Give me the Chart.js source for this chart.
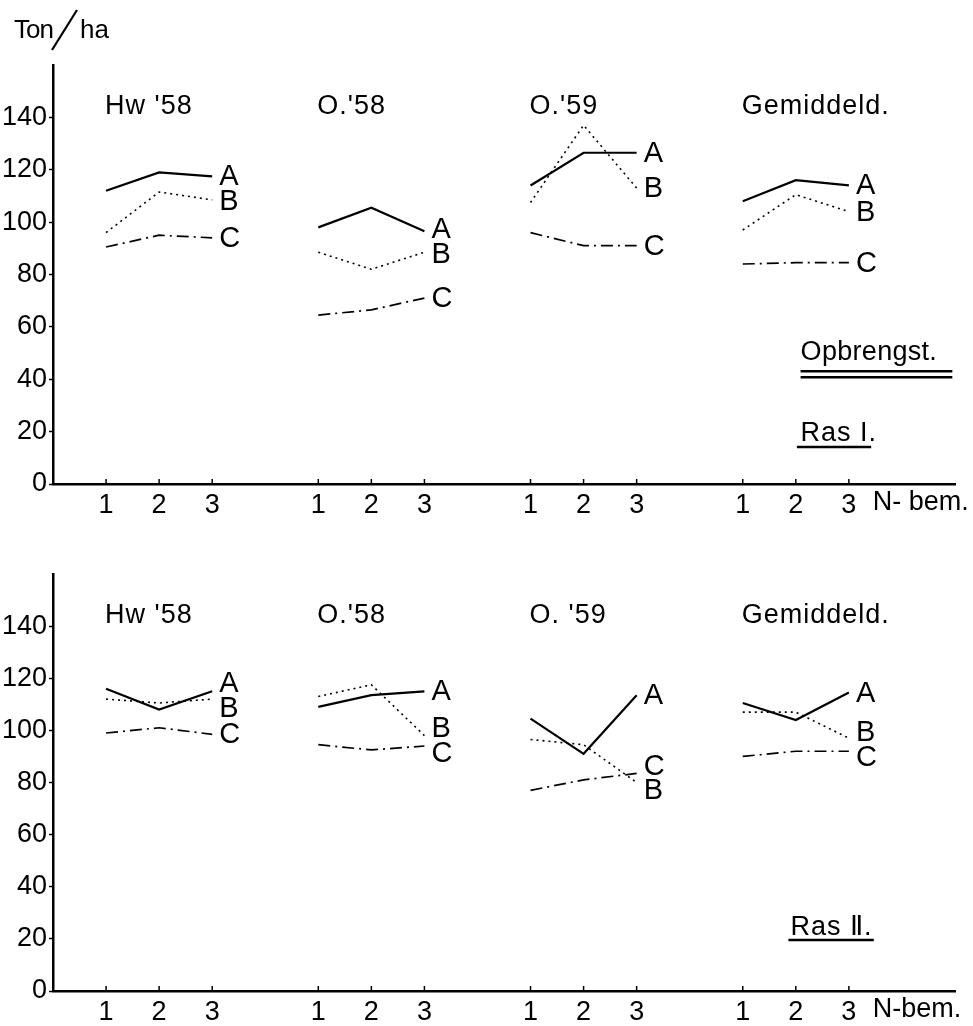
<!DOCTYPE html>
<html>
<head>
<meta charset="utf-8">
<script src="https://cdn.jsdelivr.net/npm/chart.js@4.4.1/dist/chart.umd.min.js"></script>
<style>
html, body { margin: 0; padding: 0; background: #fff; }
#wrap { position: relative; width: 973px; height: 1026px; }
#top { position: absolute; left: 0; top: 0; }
#bottom { position: absolute; left: 0; top: 530px; }
</style>
</head>
<body>
<div id="wrap">
  <canvas id="top" width="973" height="530"></canvas>
  <canvas id="bottom" width="973" height="496"></canvas>
</div>
<script>
// proefvelden (groepen) en N-bemesting
var plotsTop = ["Hw '58", "O.'58", "O.'59", "Gemiddeld."];
var plotsBottom = ["Hw '58", "O.'58", "O. '59", "Gemiddeld."];
var nLevels = ["1", "2", "3"];
var yTicks = [0, 20, 40, 60, 80, 100, 120, 140];

// Ras I - opbrengst ton/ha, per proefveld N1,N2,N3
var rasI_A = [112, 119, 117.5, 98, 105.5, 96.5, 114, 126.5, 126.5, 108, 116, 114];
var rasI_B = [96, 111.5, 108.5, 88.5, 82, 88.5, 107.5, 137, 113, 97, 110.5, 104];
var rasI_C = [90.5, 95, 94, 64.5, 66.5, 71, 96, 91, 91, 84, 84.5, 84.5];

// Ras II
var rasII_A = [116, 108, 115, 109, 113.5, 115, 104.5, 91, 113.5, 110.5, 104, 114.5];
var rasII_B = [112, 110.5, 112, 113, 117.5, 98, 96.5, 94.5, 80, 107, 107, 97];
var rasII_C = [99, 101, 98.5, 94.5, 92.5, 94, 77, 81, 83.5, 90, 92, 92];

var FONT = '"Liberation Sans", Arial, sans-serif';

// positie op de x-as: 3 trappen per groep, 1 lege plek ertussen
function slot(g, k) { return 4 * g + k + 1; }

function toPoints(vals) {
  var pts = [];
  for (var g = 0; g < 4; g++) {
    for (var k = 0; k < 3; k++) pts.push({ x: slot(g, k), y: vals[3 * g + k] });
    if (g < 3) pts.push({ x: 4 * g + 4, y: null }); // lijn onderbreken
  }
  return pts;
}

var xSlots = [];
for (var g = 0; g < 4; g++) for (var k = 0; k < 3; k++) xSlots.push(slot(g, k));

// tekst: titels, letters A/B/C, Ras, N-bem.
var annotPlugin = {
  id: 'annot',
  afterDatasetsDraw: function(chart, args, o) {
    var ctx = chart.ctx, xs = chart.scales.x, ys = chart.scales.y;
    ctx.save();
    ctx.fillStyle = '#000';
    ctx.strokeStyle = '#000';

    // kleine streepjes naar binnen op de x-as
    ctx.lineWidth = 1.5;
    xSlots.forEach(function(v) {
      var px = xs.getPixelForValue(v);
      ctx.beginPath();
      ctx.moveTo(px, xs.top);
      ctx.lineTo(px, xs.top - 5);
      ctx.stroke();
    });

    // groepstitels
    ctx.font = '27px ' + FONT;
    ctx.letterSpacing = '1px';
    ctx.textAlign = 'left';
    ctx.textBaseline = 'middle';
    o.titles.forEach(function(t, g) {
      ctx.fillText(t, xs.getPixelForValue(slot(g, 0)) - 1, ys.getPixelForValue(144));
    });
    ctx.letterSpacing = '0px';

    // letters A B C aan het eind van elke lijn, overlap wegschuiven
    ctx.font = '29px ' + FONT;
    var gap = 9.5;
    for (var g = 0; g < 4; g++) {
      var ends = o.series.map(function(s, i) { return { n: 'ABC'[i], v: s[3 * g + 2] }; });
      ends.sort(function(a, b) { return b.v - a.v; });
      for (var pass = 0; pass < 6; pass++) {
        for (var i = 0; i < ends.length - 1; i++) {
          if (ends[i].v - ends[i + 1].v < gap) {
            var mid = (ends[i].v + ends[i + 1].v) / 2;
            ends[i].v = mid + gap / 2;
            ends[i + 1].v = mid - gap / 2;
          }
        }
      }
      ends.forEach(function(e) {
        ctx.fillText(e.n, xs.getPixelForValue(slot(g, 2)) + 7, ys.getPixelForValue(e.v) + 1);
      });
    }

    // N-bem. naast de x-as labels
    ctx.font = '27px ' + FONT;
    ctx.textBaseline = 'top';
    ctx.fillText(o.nbem, xs.getPixelForValue(15.45), xs.top + 5);

    // Ras en Opbrengst, onderstreept
    ctx.textBaseline = 'alphabetic';
    o.notes.forEach(function(n) {
      ctx.font = '27px ' + FONT;
      ctx.letterSpacing = n.sp + 'px';
      ctx.fillText(n.text, xs.getPixelForValue(n.x), ys.getPixelForValue(n.y));
      ctx.letterSpacing = '0px';
      ctx.lineWidth = 2.5;
      n.lines.forEach(function(v) {
        ctx.beginPath();
        ctx.moveTo(xs.getPixelForValue(n.x0), ys.getPixelForValue(v));
        ctx.lineTo(xs.getPixelForValue(n.x1), ys.getPixelForValue(v));
        ctx.stroke();
      });
    });

    // eenheid linksboven
    if (o.unit) {
      var L = chart.chartArea.left, T = chart.chartArea.top;
      ctx.font = '26px ' + FONT;
      ctx.textBaseline = 'alphabetic';
      ctx.letterSpacing = '-1px';
      ctx.fillText('Ton', L - 39, T - 27);
      ctx.letterSpacing = '0px';
      ctx.fillText('ha', L + 27, T - 27);
      ctx.lineWidth = 2.2;
      ctx.beginPath();
      ctx.moveTo(L + 24, T - 55);
      ctx.lineTo(L - 1, T - 15);
      ctx.stroke();
    }
    ctx.restore();
  }
};

function makeChart(id, series, titles, padTop, padBottom, xHeight, extra) {
  var styles = [
    { borderWidth: 2.2, borderDash: [] },
    { borderWidth: 1.6, borderDash: [2, 4] },
    { borderWidth: 1.7, borderDash: [12, 5, 2, 5] }
  ];
  var datasets = series.map(function(s, i) {
    return {
      label: 'ABC'[i],
      data: toPoints(s),
      borderColor: '#000',
      borderWidth: styles[i].borderWidth,
      borderDash: styles[i].borderDash,
      pointRadius: 0,
      tension: 0,
      spanGaps: false,
      fill: false
    };
  });
  var ctx = document.getElementById(id).getContext('2d');
  return new Chart(ctx, {
    type: 'line',
    data: { datasets: datasets },
    options: {
      responsive: false,
      animation: false,
      devicePixelRatio: 1,
      layout: { padding: { left: 0, right: 18, top: padTop, bottom: padBottom } },
      plugins: {
        legend: { display: false },
        tooltip: { enabled: false },
        annot: Object.assign({ titles: titles, series: series }, extra)
      },
      scales: {
        x: {
          type: 'linear', min: 0, max: 17,
          afterBuildTicks: function(s) { s.ticks = xSlots.map(function(v) { return { value: v }; }); },
          afterFit: function(s) { s.height = xHeight; },
          ticks: {
            autoSkip: false, maxRotation: 0, padding: 5, color: '#000',
            font: { family: FONT, size: 27 },
            callback: function(v) { return nLevels[(v - 1) % 4]; }
          },
          grid: { drawOnChartArea: false, drawTicks: false },
          border: { color: '#000', width: 2.5 }
        },
        y: {
          type: 'linear', min: 0, max: 160,
          afterBuildTicks: function(s) { s.ticks = yTicks.map(function(v) { return { value: v }; }); },
          afterFit: function(s) { s.width = 53; },
          ticks: { padding: 2, color: '#000', font: { family: FONT, size: 27 } },
          grid: { drawOnChartArea: false, tickLength: 4, tickColor: '#000', tickWidth: 1.5 },
          border: { color: '#000', width: 2.5 }
        }
      }
    },
    plugins: [annotPlugin]
  });
}

makeChart('top', [rasI_A, rasI_B, rasI_C], plotsTop, 65, 6, 40, {
  nbem: 'N- bem.',
  unit: true,
  notes: [
    { text: 'Opbrengst.', sp: 0.3, x: 14.09, y: 47.3, x0: 14.09, x1: 16.95, lines: [43.1, 40.8] },
    { text: 'Ras I.', sp: 1, x: 14.09, y: 16.4, x0: 14.02, x1: 15.42, lines: [14.1] }
  ]
});

makeChart('bottom', [rasII_A, rasII_B, rasII_C], plotsBottom, 44, 0, 35, {
  nbem: 'N-bem.',
  unit: false,
  notes: [
    { text: 'Ras \u2161.', sp: 1, x: 13.9, y: 21.5, x0: 13.86, x1: 15.47, lines: [19.6] }
  ]
});
</script>
</body>
</html>
